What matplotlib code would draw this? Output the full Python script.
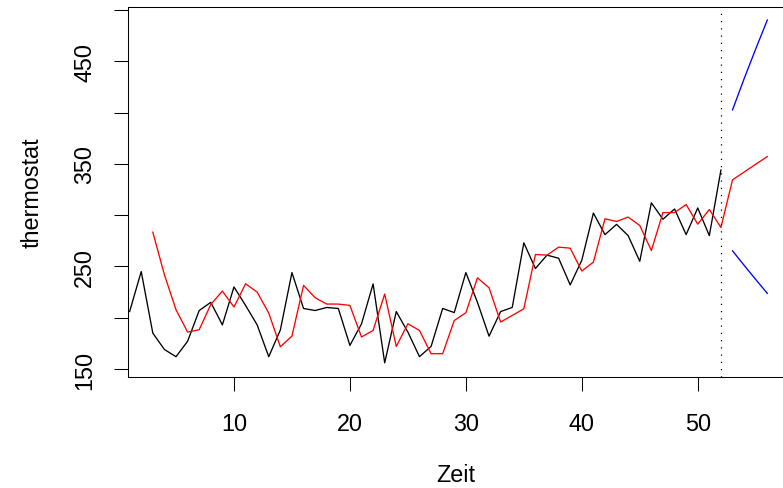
import matplotlib
matplotlib.use("Agg")
import matplotlib.pyplot as plt

# Weekly thermostat sales with Holt-Winters fit and 4-week forecast
weeks = list(range(1, 53))
thermostat = [206, 245, 185, 169, 162, 177, 207, 215, 193, 230,
              212, 193, 162, 188, 244, 209, 207, 210, 209, 173,
              194, 233, 156, 206, 186, 162, 172, 209, 205, 244,
              215, 182, 206, 210, 273, 248, 261, 258, 232, 256,
              302, 281, 291, 280, 255, 312, 296, 306, 281, 307,
              280, 344]

fit_weeks = list(range(3, 53))
fitted = [283.4, 241.9, 207.8, 186.0, 188.3, 212.9, 226.0, 210.4, 233.1, 225.0,
          204.5, 171.7, 182.1, 231.5, 219.5, 213.3, 213.3, 212.0, 181.2, 187.6,
          223.1, 172.0, 194.1, 187.6, 164.9, 164.9, 197.3, 204.8, 238.9, 229.2,
          195.8, 202.2, 208.7, 261.6, 261.0, 268.8, 267.8, 245.5, 254.2, 296.4,
          293.8, 298.1, 289.9, 265.5, 302.5, 302.5, 310.3, 291.2, 305.5, 288.0]

pred_weeks = [53, 54, 55, 56]
pred = [334.4, 342.0, 349.6, 357.1]
upper = [402.6, 433.0, 462.0, 490.2]
lower = [265.2, 251.1, 237.3, 223.7]

x_ticks = [10, 20, 30, 40, 50]
y_ticks = [150, 200, 250, 300, 350, 400, 450, 500]
y_labels = ["150", "", "250", "", "350", "", "450", ""]

plt.rcParams["font.family"] = ["Liberation Sans", "DejaVu Sans"]
FS = 16.8

W, H = 783, 489
fig = plt.figure(figsize=(W / 100, H / 100), dpi=100)
left, right, top, bottom = 128, 784, 7.5, 378
ax = fig.add_axes([left / W, 1 - bottom / H, (right - left) / W, (bottom - top) / H])

ax.plot(weeks, thermostat, color="black", lw=0.95)
ax.plot(fit_weeks + pred_weeks, fitted + pred, color="#ff0000", lw=0.95)
ax.plot(pred_weeks, upper, color="#0000ff", lw=0.95)
ax.plot(pred_weeks, lower, color="#0000ff", lw=0.95)
ax.axvline(weeks[-1], color="black", lw=0.9, linestyle=(0, (1, 4.8)))

ax.set_xlim(0.86, 57.44)
ax.set_ylim(142.2, 503.4)

ax.set_xticks(x_ticks)
ax.set_xticklabels([str(v) for v in x_ticks])
ax.set_yticks(y_ticks)
ax.set_yticklabels(y_labels, rotation=90, va="center", ha="right")

ax.tick_params(axis="both", direction="out", length=10.3, width=0.75,
               labelsize=FS, color="black")
ax.tick_params(axis="x", pad=14.6)
ax.tick_params(axis="y", pad=12.5)
for s in ax.spines.values():
    s.set_linewidth(0.75)

ax.set_xlabel("Zeit", fontsize=FS)
ax.set_ylabel("thermostat", fontsize=FS)
ax.xaxis.set_label_coords((455.5 - left) / (right - left), -(476 - bottom) / (bottom - top))
ax.xaxis.label.set_va("center")
ax.yaxis.set_label_coords(-(left - 32) / (right - left), 0.5)
ax.yaxis.label.set_va("center")

fig.savefig("out.png", dpi=100)
